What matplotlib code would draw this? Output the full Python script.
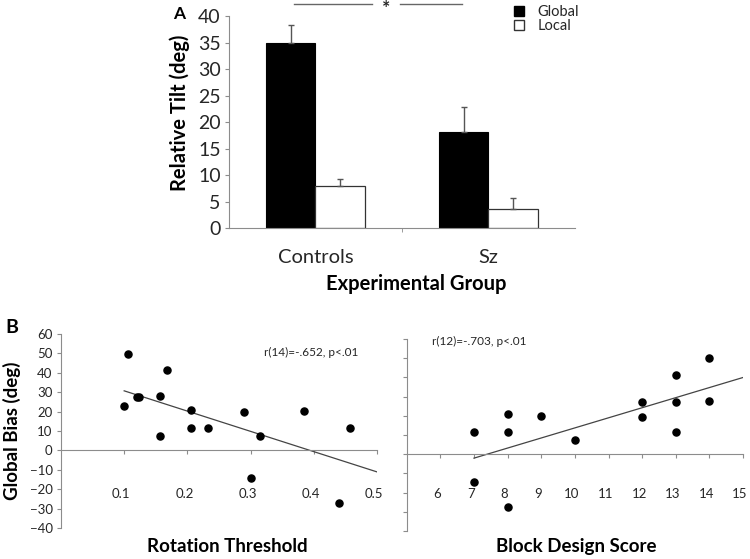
import numpy as np
import matplotlib.pyplot as plt
import matplotlib.transforms as mtransforms
from matplotlib.patches import Patch

plt.rcParams['font.family'] = ['Lato', 'DejaVu Sans']

# Panel A: relative tilt by group
groups = ['Controls', 'Sz']
global_tilt = [34.9, 18.1]
global_err = [3.5, 4.7]
local_tilt = [8.0, 3.6]
local_err = [1.2, 2.1]

# Panel B: global bias vs rotation threshold / block design score
rot_threshold = [0.100, 0.106, 0.120, 0.123, 0.156, 0.167, 0.157, 0.205, 0.205, 0.233,
                 0.290, 0.315, 0.300, 0.385, 0.457, 0.440]
rot_bias = [23.0, 49.8, 27.5, 27.5, 27.8, 41.2, 7.6, 21.0, 11.5, 11.5,
            19.6, 7.6, -14.2, 20.1, 11.5, -27.3]
block_score = [7, 7, 8, 8, 8, 9, 10, 12, 12, 13, 13, 13, 14, 14]
block_bias = [11.5, -14.3, 20.7, 11.5, -27.6, 20.0, 7.4, 27.2, 19.3, 41.4, 27.2, 11.5, 50.0, 27.9]

axis_grey = '#8c8c8c'
text_col = '#262626'

fig = plt.figure(figsize=(7.5, 5.59), dpi=100)

# ---------------- Panel A ----------------
axA = fig.add_axes([0.3053, 0.5921, 0.4613, 0.3792])
x = np.arange(len(groups))
w = 0.286
axA.bar(x - w / 2, global_tilt, w, color='black', edgecolor='black', linewidth=0.8,
        yerr=[[0, 0], global_err], ecolor='#555555', capsize=2.5, error_kw={'elinewidth': 1})
axA.bar(x + w / 2, local_tilt, w, color='white', edgecolor='#333333', linewidth=0.9,
        yerr=[[0, 0], local_err], ecolor='#555555', capsize=2.5, error_kw={'elinewidth': 1})
axA.set_xlim(-0.5, 1.5)
axA.set_ylim(0, 40)
axA.set_yticks(range(0, 41, 5))
axA.set_xticks(x)
axA.set_xticklabels(groups)
axA.set_xticks([0.5], minor=True)
axA.tick_params(axis='x', which='major', length=0, pad=15, labelsize=14.5, colors=text_col)
axA.tick_params(axis='x', which='minor', length=3, color=axis_grey)
axA.tick_params(axis='y', length=3, color=axis_grey, labelsize=14, colors=text_col, pad=3)
for s in ['top', 'right']:
    axA.spines[s].set_visible(False)
for s in ['left', 'bottom']:
    axA.spines[s].set_color(axis_grey)
fig.text(0.240, 0.799, 'Relative Tilt (deg)', rotation=90, fontsize=14.5, fontweight='bold',
         ha='center', va='center')
fig.text(0.555, 0.492, 'Experimental Group', fontsize=14.5, fontweight='bold',
         ha='center', va='center')

# significance bar
axA.plot([-0.124, 0.327], [42.2, 42.2], color='#666666', lw=1, clip_on=False)
axA.plot([0.488, 0.847], [42.2, 42.2], color='#666666', lw=1, clip_on=False)
axA.text(0.41, 41.5, '*', ha='center', va='center', fontsize=14, fontweight='bold', color=text_col)

handles = [Patch(facecolor='black', edgecolor='black'),
           Patch(facecolor='white', edgecolor='#333333')]
fig.legend(handles, ['Global', 'Local'], loc='upper left', bbox_to_anchor=(0.668, 1.014),
           frameon=False, fontsize=10.5, handlelength=0.7, handleheight=0.7,
           handletextpad=0.9, labelspacing=0.0, labelcolor=text_col)

fig.text(0.2387, 0.975, 'A', fontsize=12.5, fontweight='bold', ha='center', va='center')

# ---------------- Panel B ----------------
shift = mtransforms.ScaledTranslation(-3 / 100, 0, fig.dpi_scale_trans)


def style_scatter(ax, xlim, xticks, pad):
    ax.set_xlim(*xlim)
    ax.set_xticks(xticks)
    ax.spines['bottom'].set_position(('data', 0))
    for s in ['top', 'right']:
        ax.spines[s].set_visible(False)
    for s in ['left', 'bottom']:
        ax.spines[s].set_color(axis_grey)
    ax.tick_params(axis='x', length=3, color=axis_grey, pad=pad, labelsize=9.5, colors=text_col)
    ax.tick_params(axis='y', length=3, color=axis_grey, labelsize=9.5, colors=text_col, pad=3)
    for lbl in ax.get_xticklabels():
        lbl.set_transform(lbl.get_transform() + shift)


axL = fig.add_axes([0.0813, 0.0555, 0.4213, 0.3470])
axL.set_ylim(-40, 60)
axL.set_yticks(range(-40, 61, 10))
style_scatter(axL, (0, 0.5), [0.1, 0.2, 0.3, 0.4, 0.5], 24)
axL.scatter(rot_threshold, rot_bias, s=26, color='black', zorder=3)
slope, inter = np.polyfit(rot_threshold, rot_bias, 1)
xs = np.array([min(rot_threshold), 0.5])
axL.plot(xs, slope * xs + inter, color='#444444', lw=0.9)
axL.text(0.322, 50.5, 'r(14)=-.652, p<.01', fontsize=8.5, color=text_col, va='center')

axR = fig.add_axes([0.5423, 0.0501, 0.4484, 0.3435])
axR.set_ylim(-40, 60)
axR.set_yticks(range(-40, 61, 10))
axR.set_yticklabels([])
style_scatter(axR, (5, 15), list(range(6, 16)), 21)
axR.scatter(block_score, block_bias, s=26, color='black', zorder=3)
slope, inter = np.polyfit(block_score, block_bias, 1)
xs = np.array([min(block_score), 15])
axR.plot(xs, slope * xs + inter, color='#444444', lw=0.9)
axR.text(5.75, 58.5, 'r(12)=-.703, p<.01', fontsize=8.5, color=text_col, va='center')

fig.text(0.0153, 0.415, 'B', fontsize=14, fontweight='bold', ha='center', va='center')
fig.text(0.016, 0.23, 'Global Bias (deg)', rotation=90, fontsize=13.5, fontweight='bold',
         ha='center', va='center')
fig.text(0.303, 0.022, 'Rotation Threshold', fontsize=13.5, fontweight='bold', ha='center', va='center')
fig.text(0.769, 0.022, 'Block Design Score', fontsize=13.5, fontweight='bold', ha='center', va='center')

fig.savefig('out.png', dpi=100)
